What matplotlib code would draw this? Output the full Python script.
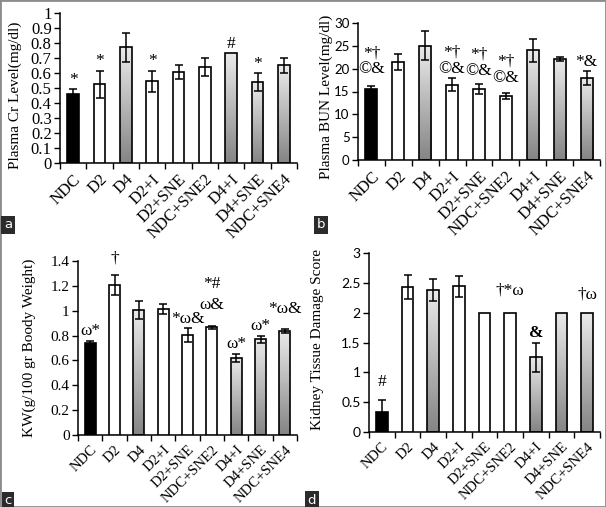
import numpy as np
import matplotlib
matplotlib.use('Agg')
import matplotlib.pyplot as plt
from matplotlib.colors import LinearSegmentedColormap
from matplotlib.patches import Rectangle

groups = ['NDC', 'D2', 'D4', 'D2+I', 'D2+SNE', 'NDC+SNE2', 'D4+I', 'D4+SNE', 'NDC+SNE4']
# bar fill per group: k = black, w = white, g = grey gradient
fills = ['k', 'w', 'g', 'w', 'w', 'w', 'g', 'g', 'g']

cr_mean = [0.46, 0.525, 0.77, 0.545, 0.605, 0.643, 0.73, 0.538, 0.65]
cr_err = [0.03, 0.09, 0.095, 0.07, 0.047, 0.06, 0.0, 0.06, 0.048]
cr_marks = ['*', '*', '', '*', '', '', '#', '*', '']

bun_mean = [15.6, 21.4, 25.0, 16.5, 15.5, 14.0, 24.0, 22.1, 18.0]
bun_err = [0.7, 1.8, 3.2, 1.4, 1.1, 0.7, 2.6, 0.4, 1.5]
bun_marks = ['*†\n©&', '', '', '*†\n©&', '*†\n©&', '*†\n©&', '', '', '*&']

kw_mean = [0.74, 1.21, 1.005, 1.015, 0.805, 0.865, 0.623, 0.77, 0.835]
kw_err = [0.02, 0.08, 0.07, 0.04, 0.055, 0.013, 0.032, 0.03, 0.016]
kw_marks = ['ω*', '†', '', '', '*ω&', '*#\nω&', 'ω*', 'ω*', '*ω&']

dmg_mean = [0.33, 2.43, 2.38, 2.44, 2.0, 2.0, 1.25, 2.0, 2.0]
dmg_err = [0.21, 0.2, 0.18, 0.17, 0.0, 0.0, 0.25, 0.0, 0.0]
dmg_marks = ['#', '', '', '', '', '†*ω', '&', '', '†ω']

SERIF = 'Liberation Serif'
SANS = 'Lato'
W, H = 606, 507

grad = LinearSegmentedColormap.from_list('bargrey', ['#858585', '#eaeaea'])


def draw_panel(fig, rect, means, errs, marks, ymax, ystep, ylabel, lab_xy,
               tick_font, tick_size, xlab_size, bold_marks=(), lift=None,
               spacing=1.0):
    # lift: extra gap (points) between error bar and mark text, per group index
    lift = lift or {}
    ax = fig.add_axes(rect)
    x = np.arange(len(groups))
    for i in x:
        m = means[i]
        if fills[i] == 'g':
            b = ax.bar(i, m, width=0.45, facecolor='none', edgecolor='black',
                       linewidth=1.2, zorder=3)[0]
            im = ax.imshow(np.linspace(0, 1, 64).reshape(-1, 1), cmap=grad,
                           extent=[i - 0.225, i + 0.225, 0, m], origin='lower',
                           aspect='auto', zorder=2)
            im.set_clip_path(b)
        else:
            fc = 'black' if fills[i] == 'k' else 'white'
            ax.bar(i, m, width=0.45, facecolor=fc, edgecolor='black',
                   linewidth=1.2, zorder=3)
        if errs[i] > 0:
            ax.errorbar(i, m, yerr=errs[i], fmt='none', ecolor='black',
                        elinewidth=1.1, capsize=2.6, capthick=1.1, zorder=4)
        if marks[i]:
            ax.annotate(marks[i], (i, m + errs[i]), xytext=(0, 1 + lift.get(i, 0)),
                        textcoords='offset points', ha='center', va='bottom',
                        fontsize=12.5, family=SERIF, linespacing=spacing, zorder=5,
                        weight='bold' if marks[i] in bold_marks else 'normal')
    ax.set_xlim(-0.5, len(groups) - 0.5)
    ax.set_ylim(0, ymax)
    ticks = np.arange(0, ymax + ystep / 2, ystep)
    ax.set_yticks(ticks)
    ax.set_yticklabels([f'{round(t, 2):g}' for t in ticks], family=tick_font,
                       fontsize=tick_size)
    ax.set_xticks(x)
    ax.set_xticklabels(groups, rotation=45, ha='right', rotation_mode='anchor',
                       family=SERIF, fontsize=xlab_size)
    ax.set_xticks(np.arange(-0.5, len(groups)), minor=True)
    ax.tick_params(axis='x', which='major', length=0, pad=6)
    ax.tick_params(axis='x', which='minor', length=4, direction='out', width=1)
    ax.tick_params(axis='y', length=4, direction='out', width=1, pad=2)
    for s in ['top', 'right']:
        ax.spines[s].set_visible(False)
    for s in ['left', 'bottom']:
        ax.spines[s].set_linewidth(1.1)
    ax.patch.set_alpha(0)
    fig.text(lab_xy[0] / W, 1 - lab_xy[1] / H, ylabel, rotation=90,
             ha='center', va='center', family=SERIF, fontsize=11)
    return ax


fig = plt.figure(figsize=(6.06, 5.07), dpi=100)

draw_panel(fig, [60 / W, 1 - 163 / H, 237 / W, 150 / H], cr_mean, cr_err, cr_marks,
           1.0, 0.1, 'Plasma Cr Level(mg/dl)', (15, 95), SERIF, 12, 12)
draw_panel(fig, [358 / W, 1 - 160 / H, 242 / W, 137 / H], bun_mean, bun_err, bun_marks,
           30, 5, 'Plasma BUN Level(mg/dl)', (326, 97), SANS, 9.5, 12,
           lift={0: 5, 4: 3, 5: 4})
draw_panel(fig, [78 / W, 1 - 435 / H, 219 / W, 174 / H], kw_mean, kw_err, kw_marks,
           1.4, 0.2, 'KW(g/100 gr Boody Weight)', (29, 348), SERIF, 11, 10.5,
           lift={1: 5, 5: 8, 8: 8}, spacing=1.45)
draw_panel(fig, [369 / W, 1 - 432 / H, 231 / W, 179 / H], dmg_mean, dmg_err, dmg_marks,
           3.0, 0.5, 'Kidney Tissue Damage Score', (318, 340), SANS, 10, 10.5,
           bold_marks=('&',), lift={0: 6, 5: 9, 8: 6})

# panel letters
for letter, (px, py) in zip('abcd', [(8, 225), (321, 225), (8, 501), (312, 500)]):
    fig.text(px / W, 1 - py / H, letter, ha='center', va='center', color='white',
             family='DejaVu Sans', fontsize=9.5,
             bbox=dict(boxstyle='square,pad=0.2', facecolor='#2b2b2b', edgecolor='none'))

fig.patches.append(Rectangle((0, 0), 1, 1, transform=fig.transFigure, fill=False,
                             edgecolor='#8c8c8c', linewidth=2))

fig.savefig('out.png', dpi=100)
